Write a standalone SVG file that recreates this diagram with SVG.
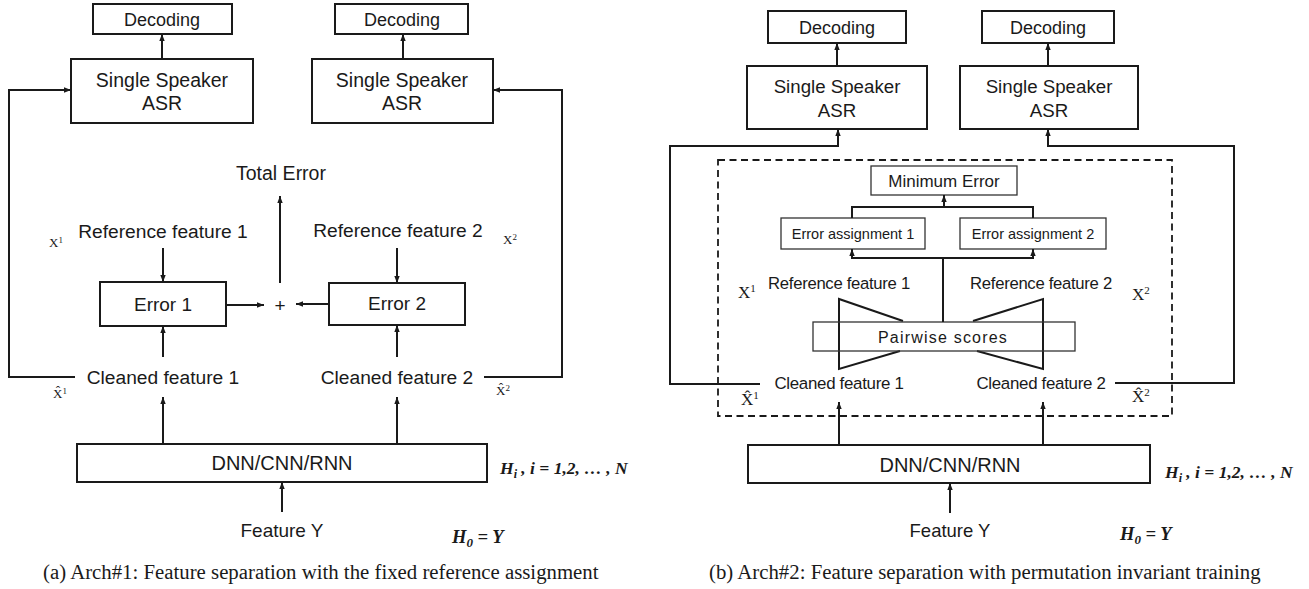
<svg xmlns="http://www.w3.org/2000/svg" width="1309" height="589" viewBox="0 0 1309 589">
<defs>
<marker id="ah" markerWidth="8" markerHeight="8" refX="7" refY="4" orient="auto" markerUnits="userSpaceOnUse"><path d="M0,1.3 L7,4 L0,6.7 z" fill="#1a1a1a"/></marker>
<style>
.box{fill:#fff;stroke:#1a1a1a;stroke-width:2}
.tbox{fill:#fff;stroke:#333;stroke-width:1.3}
.ln{fill:none;stroke:#1a1a1a;stroke-width:2}
.ar{fill:none;stroke:#1a1a1a;stroke-width:2;marker-end:url(#ah)}
.dash{fill:none;stroke:#1a1a1a;stroke-width:1.8;stroke-dasharray:7 4.5}
.t{font-family:"Liberation Sans",Arial,sans-serif;fill:#1a1a1a;text-anchor:middle}
.sym{font-family:"Liberation Serif","Times New Roman",serif;fill:#1a1a1a}
.math{font-family:"Liberation Serif","Times New Roman",serif;font-weight:bold;font-style:italic;fill:#1a1a1a}
.cap{font-family:"Liberation Serif","Times New Roman",serif;fill:#1a1a1a;font-size:20.8px}
</style>
</defs>

<!-- ============ (a) ============ -->
<g id="a-dec1"><rect class="box" x="93" y="4" width="139" height="30"/><text class="t" x="162" y="25.5" font-size="18">Decoding</text></g>
<g id="a-dec2"><rect class="box" x="335" y="4" width="133" height="30"/><text class="t" x="402" y="25.5" font-size="18">Decoding</text></g>
<g id="a-asr1"><rect class="box" x="71" y="59" width="182" height="64"/><text class="t" x="162" y="87" font-size="19.5">Single Speaker</text><text class="t" x="162" y="110" font-size="19.5">ASR</text></g>
<g id="a-asr2"><rect class="box" x="312" y="59" width="181" height="64"/><text class="t" x="402" y="87" font-size="19.5">Single Speaker</text><text class="t" x="402" y="110" font-size="19.5">ASR</text></g>
<g id="a-total"><text class="t" x="281" y="180" font-size="19.5">Total Error</text></g>
<g id="a-ref1"><text class="t" x="163" y="238" font-size="19.2">Reference feature 1</text></g>
<g id="a-ref2"><text class="t" x="398" y="237" font-size="19.2">Reference feature 2</text></g>
<g id="a-x1"><text class="sym" x="49" y="247" font-size="13">X<tspan font-size="9" dy="-4">1</tspan></text></g>
<g id="a-x2"><text class="sym" x="503" y="244" font-size="13">X<tspan font-size="9" dy="-4">2</tspan></text></g>
<g id="a-err1"><rect class="box" x="100" y="282" width="126" height="44"/><text class="t" x="163" y="311" font-size="19">Error 1</text></g>
<g id="a-err2"><rect class="box" x="329" y="283" width="136" height="42"/><text class="t" x="397" y="310" font-size="19">Error 2</text></g>
<g id="a-plus"><text class="t" x="280" y="311.5" font-size="19">+</text></g>
<g id="a-clean1"><text class="t" x="163" y="384" font-size="19.2">Cleaned feature 1</text></g>
<g id="a-clean2"><text class="t" x="397" y="384" font-size="19.2">Cleaned feature 2</text></g>
<g id="a-xh1"><text class="sym" x="53" y="398" font-size="13">X̂<tspan font-size="9" dy="-4">1</tspan></text></g>
<g id="a-xh2"><text class="sym" x="496" y="395" font-size="13">X̂<tspan font-size="9" dy="-4">2</tspan></text></g>
<g id="a-dnn"><rect class="box" x="77" y="444" width="410" height="38"/><text class="t" x="282" y="470" font-size="20">DNN/CNN/RNN</text></g>
<g id="a-hi"><text class="math" x="500" y="474" font-size="17.5">H<tspan font-size="12" dy="4">i</tspan><tspan dy="-4">  ,  i = 1,2, … , N</tspan></text></g>
<g id="a-feat"><text class="t" x="282" y="537" font-size="19">Feature Y</text></g>
<g id="a-h0"><text class="math" x="452" y="543" font-size="18.5">H<tspan font-size="13" dy="4">0</tspan><tspan dy="-4"> = Y</tspan></text></g>
<g id="a-caption"><text class="cap" x="43" y="579">(a)  Arch#1: Feature separation with the fixed reference assignment</text></g>

<!-- ============ (b) ============ -->
<g id="b-dec1"><rect class="box" x="768" y="11" width="138" height="32"/><text class="t" x="837" y="33.5" font-size="18">Decoding</text></g>
<g id="b-dec2"><rect class="box" x="982" y="11" width="132" height="32"/><text class="t" x="1048" y="33.5" font-size="18">Decoding</text></g>
<g id="b-asr1"><rect class="box" x="747" y="66" width="180" height="63"/><text class="t" x="837" y="92.5" font-size="18.7">Single Speaker</text><text class="t" x="837" y="116.5" font-size="18.7">ASR</text></g>
<g id="b-asr2"><rect class="box" x="960" y="66" width="178" height="63"/><text class="t" x="1049" y="92.5" font-size="18.7">Single Speaker</text><text class="t" x="1049" y="116.5" font-size="18.7">ASR</text></g>
<g id="b-pit"><rect class="dash" x="718" y="160" width="454" height="256"/></g>
<g id="b-min"><rect class="tbox" x="871" y="166" width="146" height="29"/><text class="t" x="944" y="187" font-size="17">Minimum Error</text></g>
<g id="b-ea1"><rect class="tbox" x="781" y="218" width="144" height="31"/><text class="t" x="853" y="239" font-size="14.5">Error assignment 1</text></g>
<g id="b-ea2"><rect class="tbox" x="960" y="218" width="146" height="31"/><text class="t" x="1033" y="239" font-size="14.5">Error assignment 2</text></g>
<g id="b-ref1"><text class="t" x="839" y="289" font-size="16.7" letter-spacing="-0.3">Reference feature 1</text></g>
<g id="b-ref2"><text class="t" x="1041" y="289" font-size="16.7" letter-spacing="-0.3">Reference feature 2</text></g>
<g id="b-x1"><text class="sym" x="738" y="298" font-size="17">X<tspan font-size="11" dy="-6">1</tspan></text></g>
<g id="b-x2"><text class="sym" x="1132" y="300" font-size="17">X<tspan font-size="11" dy="-6">2</tspan></text></g>
<g id="b-trap1"><path class="ln" d="M903,321 L839,299 L839,369 L900,351" stroke-width="1.8"/></g>
<g id="b-trap2"><path class="ln" d="M973,321 L1043,299 L1043,369 L977,351" stroke-width="1.8"/></g>
<g id="b-pair"><rect x="813" y="322" width="262" height="29" fill="none" stroke="#333" stroke-width="1.3"/><text class="t" x="943" y="343" font-size="16" letter-spacing="1.2">Pairwise scores</text></g>
<g id="b-clean1"><text class="t" x="839" y="389" font-size="16.9" letter-spacing="-0.3">Cleaned feature 1</text></g>
<g id="b-clean2"><text class="t" x="1041" y="389" font-size="16.9" letter-spacing="-0.3">Cleaned feature 2</text></g>
<g id="b-xh1"><text class="sym" x="741" y="405" font-size="17">X̂<tspan font-size="11" dy="-6">1</tspan></text></g>
<g id="b-xh2"><text class="sym" x="1132" y="402" font-size="17">X̂<tspan font-size="11" dy="-6">2</tspan></text></g>
<g id="b-dnn"><rect class="box" x="748" y="445" width="402" height="38"/><text class="t" x="950" y="472" font-size="20">DNN/CNN/RNN</text></g>
<g id="b-hi"><text class="math" x="1165" y="478" font-size="17.5">H<tspan font-size="12" dy="4">i</tspan><tspan dy="-4">  ,  i = 1,2, … , N</tspan></text></g>
<g id="b-feat"><text class="t" x="950" y="537" font-size="18.5">Feature Y</text></g>
<g id="b-h0"><text class="math" x="1120" y="540" font-size="18.5">H<tspan font-size="13" dy="4">0</tspan><tspan dy="-4"> = Y</tspan></text></g>
<g id="b-caption"><text class="cap" x="709" y="579">(b)  Arch#2: Feature separation with permutation invariant training</text></g>

<!-- ============ connectors ============ -->
<g id="connectors">
<!-- (a) -->
<line class="ar" x1="162" y1="59" x2="162" y2="34"/>
<line class="ar" x1="403" y1="59" x2="403" y2="34"/>
<polyline class="ar" points="75,377 9,377 9,90 71,90"/>
<polyline class="ar" points="484,377 562,377 562,90 493,90"/>
<line class="ar" x1="280" y1="283" x2="280" y2="196"/>
<line class="ar" x1="163" y1="248" x2="163" y2="282"/>
<line class="ar" x1="397" y1="248" x2="397" y2="283"/>
<line class="ar" x1="226" y1="305" x2="264" y2="305"/>
<line class="ar" x1="329" y1="304" x2="296" y2="304"/>
<line class="ar" x1="163" y1="357" x2="163" y2="326"/>
<line class="ar" x1="397" y1="357" x2="397" y2="325"/>
<line class="ar" x1="163" y1="444" x2="163" y2="397"/>
<line class="ar" x1="397" y1="444" x2="397" y2="397"/>
<line class="ar" x1="282" y1="512" x2="282" y2="482"/>
<!-- (b) -->
<line class="ar" x1="837" y1="66" x2="837" y2="43"/>
<line class="ar" x1="1048" y1="66" x2="1048" y2="43"/>
<polyline class="ar" points="760,384 670,384 670,146 838,146 838,129"/>
<polyline class="ar" points="1115,383 1234,383 1234,146 1048,146 1048,129"/>
<polyline class="ln" points="852,218 852,207 1033,207 1033,218" stroke-width="1.8"/>
<line class="ar" x1="944" y1="207" x2="944" y2="195" stroke-width="1.8"/>
<line class="ln" x1="943" y1="322" x2="943" y2="258" stroke-width="1.8"/>
<polyline class="ar" points="943,258 852,258 852,249" stroke-width="1.8"/>
<polyline class="ar" points="943,258 1033,258 1033,249" stroke-width="1.8"/>
<line class="ar" x1="839" y1="445" x2="839" y2="402"/>
<line class="ar" x1="1043" y1="445" x2="1043" y2="402"/>
<line class="ar" x1="950" y1="513" x2="950" y2="483"/>
</g>
</svg>
